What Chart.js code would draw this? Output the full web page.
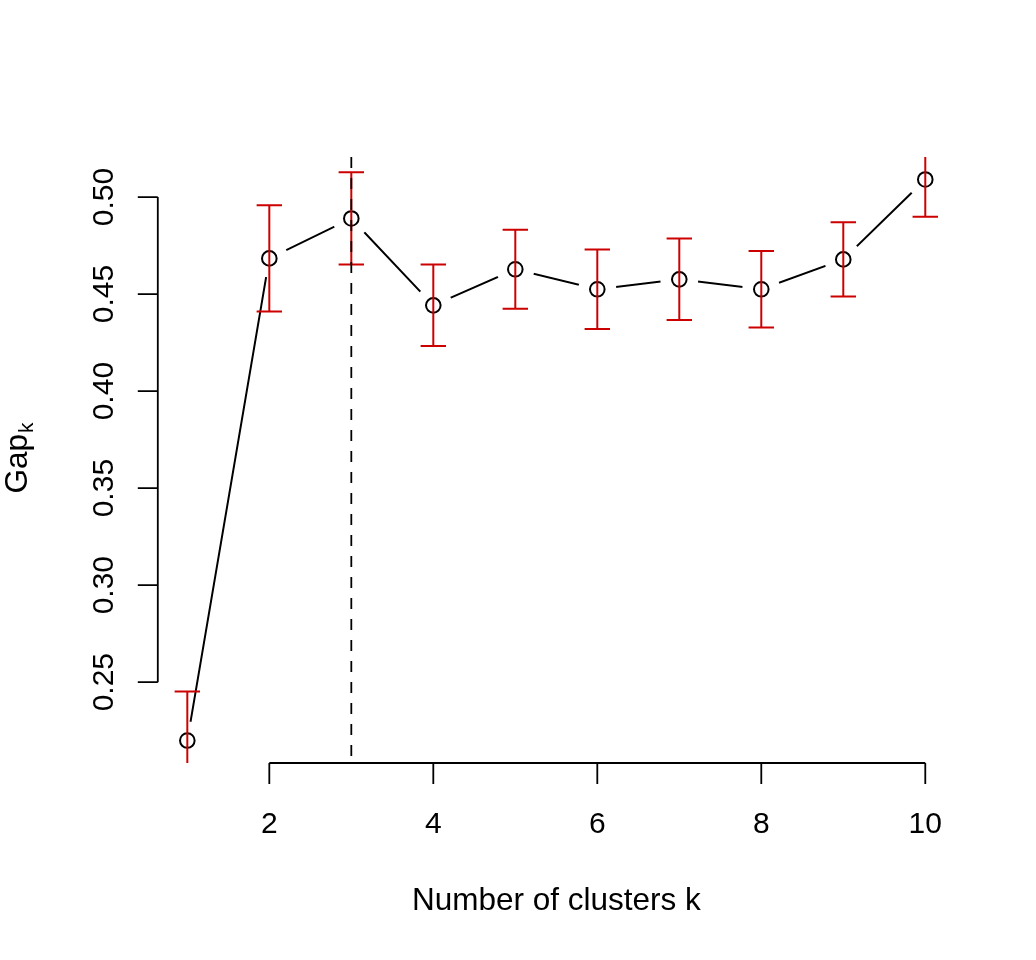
<!DOCTYPE html>
<html>
<head>
<meta charset="utf-8">
<script src="https://cdn.jsdelivr.net/npm/chart.js@4/dist/chart.umd.min.js"></script>
<style>
  html, body { margin: 0; padding: 0; background: #fff; }
  #wrap { width: 1036px; height: 960px; }
</style>
</head>
<body>
<div id="wrap"><canvas id="gapChart"></canvas></div>
<script>
// gap statistic per number of clusters
const clusters = [1, 2, 3, 4, 5, 6, 7, 8, 9, 10];
const gapValues = [0.2199, 0.4684, 0.4890, 0.4442, 0.4628, 0.4525, 0.4576, 0.4525, 0.4679, 0.5091];
const gapSE = [0.0253, 0.0274, 0.0238, 0.0210, 0.0204, 0.0205, 0.0210, 0.0197, 0.0191, 0.0192];
const chosenK = 3;
const xTicks = [2, 4, 6, 8, 10];
const yTicks = [0.25, 0.30, 0.35, 0.40, 0.45, 0.50];

const TICK_FONT = '30px "Liberation Sans", Arial, sans-serif';
const LAB_FONT = '31.5px "Liberation Sans", Arial, sans-serif';
const SUB_FONT = '21px "Liberation Sans", Arial, sans-serif';
const RED = '#cd0000';

// R style limits: data range + 4%
function rLim(vals) {
    const lo = Math.min(...vals), hi = Math.max(...vals);
    const d = (hi - lo) * 0.04;
    return [lo - d, hi + d];
}
const xLim = rLim(clusters);
const yLim = rLim(gapValues);

const points = clusters.map((k, i) => ({ x: k, y: gapValues[i] }));

const rPlot = {
    id: 'rPlot',
    afterDatasetsDraw(chart) {
        const ctx = chart.ctx;
        const area = chart.chartArea;
        const xs = chart.scales.x, ys = chart.scales.y;

        // error bars + vertical line, clipped to plot region
        ctx.save();
        ctx.beginPath();
        ctx.rect(area.left, area.top, area.right - area.left, area.bottom - area.top);
        ctx.clip();
        ctx.strokeStyle = RED;
        ctx.lineWidth = 2;
        clusters.forEach((k, i) => {
            const px = xs.getPixelForValue(k);
            const top = ys.getPixelForValue(gapValues[i] + gapSE[i]);
            const bot = ys.getPixelForValue(gapValues[i] - gapSE[i]);
            ctx.beginPath();
            ctx.moveTo(px, top); ctx.lineTo(px, bot);
            ctx.moveTo(px - 12.7, top); ctx.lineTo(px + 12.7, top);
            ctx.moveTo(px - 12.7, bot); ctx.lineTo(px + 12.7, bot);
            ctx.stroke();
        });
        const vx = xs.getPixelForValue(chosenK);
        ctx.strokeStyle = '#000';
        ctx.lineWidth = 1.8;
        ctx.setLineDash([11, 10]);
        ctx.beginPath();
        ctx.moveTo(vx, area.top); ctx.lineTo(vx, area.bottom);
        ctx.stroke();
        ctx.restore();

        // axes
        ctx.save();
        ctx.strokeStyle = '#000';
        ctx.fillStyle = '#000';
        ctx.lineWidth = 1.8;
        ctx.font = TICK_FONT;

        const y0 = area.bottom;
        ctx.beginPath();
        ctx.moveTo(xs.getPixelForValue(xTicks[0]), y0);
        ctx.lineTo(xs.getPixelForValue(xTicks[xTicks.length - 1]), y0);
        xTicks.forEach(t => {
            const px = xs.getPixelForValue(t);
            ctx.moveTo(px, y0); ctx.lineTo(px, y0 + 21);
        });
        ctx.stroke();
        ctx.textAlign = 'center';
        ctx.textBaseline = 'alphabetic';
        xTicks.forEach(t => ctx.fillText(String(t), xs.getPixelForValue(t), 833));

        const x0 = area.left;
        ctx.beginPath();
        ctx.moveTo(x0, ys.getPixelForValue(yTicks[0]));
        ctx.lineTo(x0, ys.getPixelForValue(yTicks[yTicks.length - 1]));
        yTicks.forEach(t => {
            const py = ys.getPixelForValue(t);
            ctx.moveTo(x0, py); ctx.lineTo(x0 - 20, py);
        });
        ctx.stroke();
        yTicks.forEach(t => {
            ctx.save();
            ctx.translate(113, ys.getPixelForValue(t));
            ctx.rotate(-Math.PI / 2);
            ctx.fillText(t.toFixed(2), 0, 0);
            ctx.restore();
        });

        // titles
        ctx.font = LAB_FONT;
        ctx.fillText('Number of clusters k', (area.left + area.right) / 2, 910);

        ctx.save();
        ctx.translate(27, (area.top + area.bottom) / 2 - 2);
        ctx.rotate(-Math.PI / 2);
        const main = 'Gap';
        const wMain = ctx.measureText(main).width;
        ctx.font = SUB_FONT;
        const wSub = ctx.measureText('k').width;
        const start = -(wMain + wSub + 1) / 2;
        ctx.textAlign = 'left';
        ctx.font = LAB_FONT;
        ctx.fillText(main, start, 0);
        ctx.font = SUB_FONT;
        ctx.fillText('k', start + wMain + 1, 6);
        ctx.restore();

        ctx.restore();
    }
};

new Chart(document.getElementById('gapChart').getContext('2d'), {
    type: 'scatter',
    data: {
        datasets: [
            {
                label: 'line',
                data: points,
                showLine: true,
                borderColor: '#000',
                borderWidth: 2,
                pointRadius: 0,
                order: 3
            },
            {
                label: 'gap',
                data: points,
                pointRadius: 19,
                pointBackgroundColor: '#fff',
                pointBorderWidth: 0,
                pointBorderColor: 'rgba(0,0,0,0)',
                order: 2
            },
            {
                label: 'Gap_k',
                data: points,
                pointRadius: 7.3,
                pointBackgroundColor: 'rgba(0,0,0,0)',
                pointBorderColor: '#000',
                pointBorderWidth: 2,
                order: 1
            }
        ]
    },
    options: {
        responsive: true,
        maintainAspectRatio: false,
        animation: false,
        layout: { padding: { left: 157.8, right: 81.2, top: 157, bottom: 197 } },
        plugins: {
            legend: { display: false },
            tooltip: { enabled: false }
        },
        scales: {
            x: { type: 'linear', min: xLim[0], max: xLim[1], display: false },
            y: { type: 'linear', min: yLim[0], max: yLim[1], display: false }
        }
    },
    plugins: [rPlot]
});
</script>
</body>
</html>
